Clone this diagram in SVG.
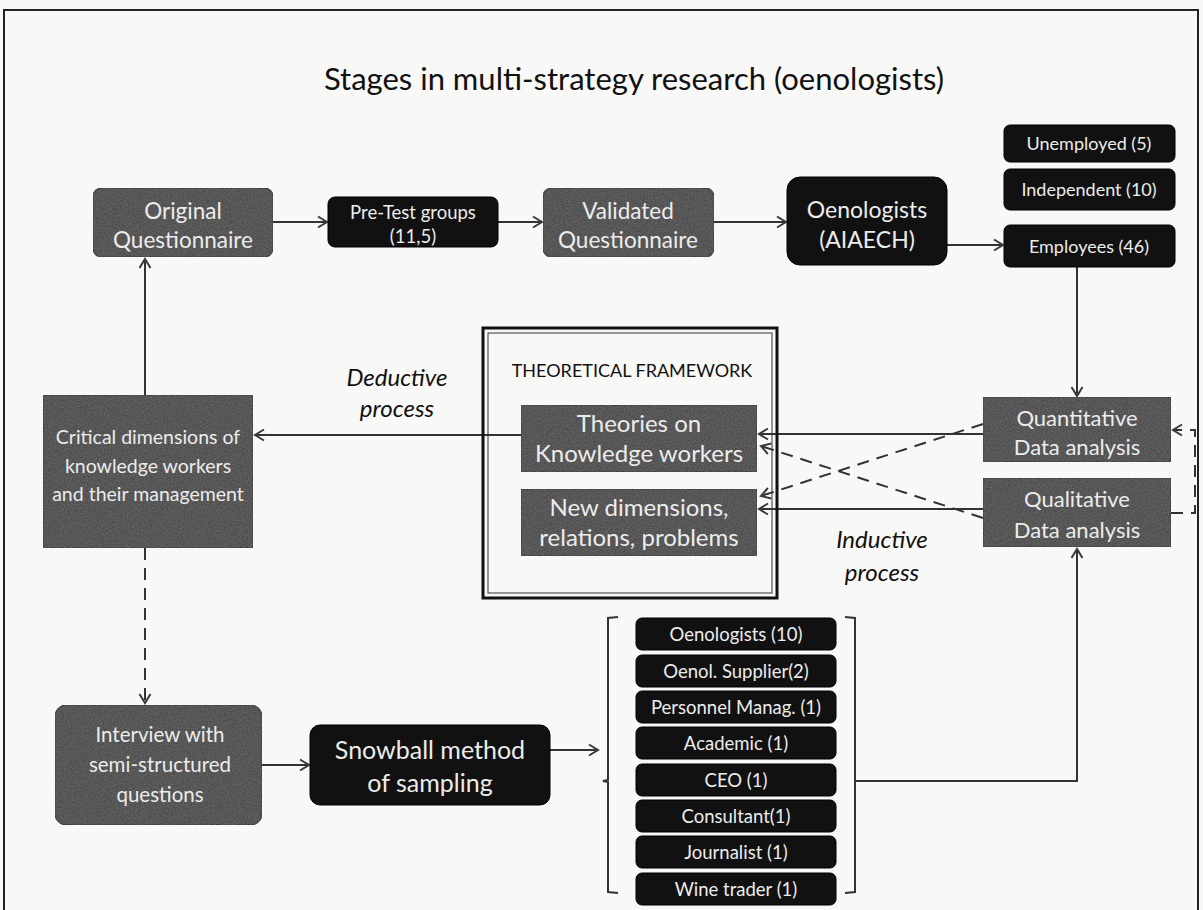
<svg xmlns="http://www.w3.org/2000/svg" width="1203" height="910" viewBox="0 0 1203 910">
<defs>
<marker id="ah" markerWidth="14" markerHeight="14" refX="11" refY="7" orient="auto" markerUnits="userSpaceOnUse">
<path d="M2,1.5 L11,7 L2,12.5" fill="none" stroke="#3a3a3a" stroke-width="2"/>
</marker>
<filter id="grain" x="0" y="0" width="100%" height="100%">
<feTurbulence type="fractalNoise" baseFrequency="0.7" numOctaves="2" seed="3" result="n"/>
<feColorMatrix in="n" type="matrix" values="0 0 0 0 0.45  0 0 0 0 0.45  0 0 0 0 0.45  0 0 0 0.25 0" result="g"/>
<feComposite in="g" in2="SourceGraphic" operator="in" result="gc"/>
<feMerge><feMergeNode in="SourceGraphic"/><feMergeNode in="gc"/></feMerge>
</filter>
</defs>
<style>
.gray{fill:#3c3c3c;stroke:#222;stroke-width:1.5}
.blk{fill:#111;stroke:#000;stroke-width:1}
.wt{fill:#ececec;font-family:Lato,"Liberation Sans",sans-serif;text-anchor:middle}
.bt{fill:#111;font-family:Lato,"Liberation Sans",sans-serif;text-anchor:middle}
.it{font-style:italic}
.ln{fill:none;stroke:#333;stroke-width:2}
.dl{fill:none;stroke:#333;stroke-width:2;stroke-dasharray:12,8}
</style>
<rect x="0" y="0" width="1203" height="910" fill="#f8f8f6"/>
<rect x="4" y="10" width="1194" height="910" fill="none" stroke="#222" stroke-width="2"/>
<text class="bt" x="634" y="90" font-size="31">Stages in multi-strategy research (oenologists)</text>

<g id="connectors">
<line class="ln" x1="273" y1="222" x2="327" y2="222" marker-end="url(#ah)"/>
<line class="ln" x1="498" y1="222" x2="542" y2="222" marker-end="url(#ah)"/>
<line class="ln" x1="714" y1="222" x2="786" y2="222" marker-end="url(#ah)"/>
<line class="ln" x1="947" y1="245" x2="1003" y2="245" marker-end="url(#ah)"/>
<line class="ln" x1="1077" y1="267" x2="1077" y2="396" marker-end="url(#ah)"/>
<line class="ln" x1="145" y1="395" x2="145" y2="259" marker-end="url(#ah)"/>
<line class="ln" x1="521" y1="435" x2="255" y2="435" marker-end="url(#ah)"/>
<line class="ln" x1="983" y1="434" x2="759" y2="434" marker-end="url(#ah)"/>
<line class="ln" x1="983" y1="509" x2="759" y2="509" marker-end="url(#ah)"/>
<line class="dl" x1="983" y1="424" x2="761" y2="496" marker-end="url(#ah)"/>
<line class="dl" x1="983" y1="518" x2="761" y2="446" marker-end="url(#ah)"/>
<polyline class="dl" points="1171,513 1195,513 1195,430 1173,430" marker-end="url(#ah)"/>
<line class="dl" x1="145" y1="548" x2="145" y2="703" marker-end="url(#ah)"/>
<line class="ln" x1="262" y1="765" x2="309" y2="765" marker-end="url(#ah)"/>
<line class="ln" x1="550" y1="750" x2="598" y2="750" marker-end="url(#ah)"/>
<polyline class="ln" points="856,781 1077,781 1077,549" marker-end="url(#ah)"/>
</g>

<g id="original">
<rect class="gray" filter="url(#grain)" x="93" y="188" width="180" height="69" rx="9"/>
<text class="wt" x="183" y="219" font-size="22.5">Original</text>
<text class="wt" x="183" y="248" font-size="22.5">Questionnaire</text>
</g>
<g id="pretest">
<rect class="blk" x="328" y="197" width="170" height="50" rx="7"/>
<text class="wt" x="413" y="219" font-size="18.5">Pre-Test groups</text>
<text class="wt" x="413" y="243" font-size="18.5">(11,5)</text>
</g>
<g id="validated">
<rect class="gray" filter="url(#grain)" x="543" y="188" width="171" height="69" rx="9"/>
<text class="wt" x="628" y="219" font-size="22.5">Validated</text>
<text class="wt" x="628" y="248" font-size="22.5">Questionnaire</text>
</g>
<g id="oenologists">
<rect class="blk" x="787" y="177" width="160" height="88" rx="13"/>
<text class="wt" x="867" y="218" font-size="23">Oenologists</text>
<text class="wt" x="867" y="248" font-size="23">(AIAECH)</text>
</g>
<g id="unemployed">
<rect class="blk" x="1004" y="125" width="171" height="37" rx="6"/>
<text class="wt" x="1089" y="150" font-size="18">Unemployed (5)</text>
</g>
<g id="independent">
<rect class="blk" x="1004" y="169" width="171" height="41" rx="6"/>
<text class="wt" x="1089" y="196" font-size="18">Independent (10)</text>
</g>
<g id="employees">
<rect class="blk" x="1004" y="225" width="171" height="42" rx="6"/>
<text class="wt" x="1089" y="253" font-size="18">Employees (46)</text>
</g>

<g id="framework">
<rect x="483" y="328" width="294" height="270" fill="none" stroke="#111" stroke-width="3"/>
<rect x="488" y="333" width="284" height="260" fill="none" stroke="#333" stroke-width="1"/>
<text class="bt" x="632" y="377" font-size="18">THEORETICAL FRAMEWORK</text>
</g>
<g id="theories">
<rect class="gray" filter="url(#grain)" x="521" y="405" width="236" height="67"/>
<text class="wt" x="639" y="432" font-size="24">Theories on</text>
<text class="wt" x="639" y="462" font-size="24">Knowledge workers</text>
</g>
<g id="newdims">
<rect class="gray" filter="url(#grain)" x="521" y="489" width="236" height="67"/>
<text class="wt" x="639" y="516" font-size="24">New dimensions,</text>
<text class="wt" x="639" y="546" font-size="24">relations, problems</text>
</g>
<g id="deductive">
<text class="bt it" x="397" y="386" font-size="24">Deductive</text>
<text class="bt it" x="397" y="417" font-size="24">process</text>
</g>
<g id="critical">
<rect class="gray" filter="url(#grain)" x="43" y="395" width="210" height="153"/>
<text class="wt" x="148" y="444" font-size="19.5">Critical dimensions of</text>
<text class="wt" x="148" y="473" font-size="19.5">knowledge workers</text>
<text class="wt" x="148" y="501" font-size="19.5">and their management</text>
</g>
<g id="quantitative">
<rect class="gray" filter="url(#grain)" x="983" y="397" width="188" height="65"/>
<text class="wt" x="1077" y="426" font-size="22">Quantitative</text>
<text class="wt" x="1077" y="455" font-size="22">Data analysis</text>
</g>
<g id="qualitative">
<rect class="gray" filter="url(#grain)" x="983" y="478" width="188" height="69"/>
<text class="wt" x="1077" y="507" font-size="22">Qualitative</text>
<text class="wt" x="1077" y="538" font-size="22">Data analysis</text>
</g>
<g id="inductive">
<text class="bt it" x="882" y="548" font-size="24">Inductive</text>
<text class="bt it" x="882" y="581" font-size="24">process</text>
</g>
<g id="interview">
<rect class="gray" filter="url(#grain)" x="55" y="705" width="207" height="120" rx="12"/>
<text class="wt" x="160" y="742" font-size="20.5">Interview with</text>
<text class="wt" x="160" y="772" font-size="20.5">semi-structured</text>
<text class="wt" x="160" y="802" font-size="20.5">questions</text>
</g>
<g id="snowball">
<rect class="blk" x="310" y="725" width="240" height="80" rx="10"/>
<text class="wt" x="430" y="759" font-size="25">Snowball method</text>
<text class="wt" x="430" y="792" font-size="25">of sampling</text>
</g>
<g id="bracket">
<path class="ln" stroke-width="1.5" d="M618,617 L608,618 L608,780 L603,781 L608,782 L608,892 L618,893"/>
<path class="ln" stroke-width="1.5" d="M845,617 L855,618 L855,892 L845,893"/>
</g>
<g id="list">
<g id="l1"><rect class="blk" x="636" y="618" width="200" height="32" rx="6"/><text class="wt" x="736" y="641" font-size="18.5">Oenologists (10)</text></g>
<g id="l2"><rect class="blk" x="636" y="655" width="200" height="32" rx="6"/><text class="wt" x="736" y="678" font-size="18.5">Oenol. Supplier(2)</text></g>
<g id="l3"><rect class="blk" x="636" y="691" width="200" height="32" rx="6"/><text class="wt" x="736" y="714" font-size="18.5">Personnel Manag. (1)</text></g>
<g id="l4"><rect class="blk" x="636" y="727" width="200" height="32" rx="6"/><text class="wt" x="736" y="750" font-size="18.5">Academic (1)</text></g>
<g id="l5"><rect class="blk" x="636" y="764" width="200" height="32" rx="6"/><text class="wt" x="736" y="787" font-size="18.5">CEO (1)</text></g>
<g id="l6"><rect class="blk" x="636" y="800" width="200" height="32" rx="6"/><text class="wt" x="736" y="823" font-size="18.5">Consultant(1)</text></g>
<g id="l7"><rect class="blk" x="636" y="836" width="200" height="32" rx="6"/><text class="wt" x="736" y="859" font-size="18.5">Journalist (1)</text></g>
<g id="l8"><rect class="blk" x="636" y="873" width="200" height="32" rx="6"/><text class="wt" x="736" y="896" font-size="18.5">Wine trader (1)</text></g>
</g>
</svg>
